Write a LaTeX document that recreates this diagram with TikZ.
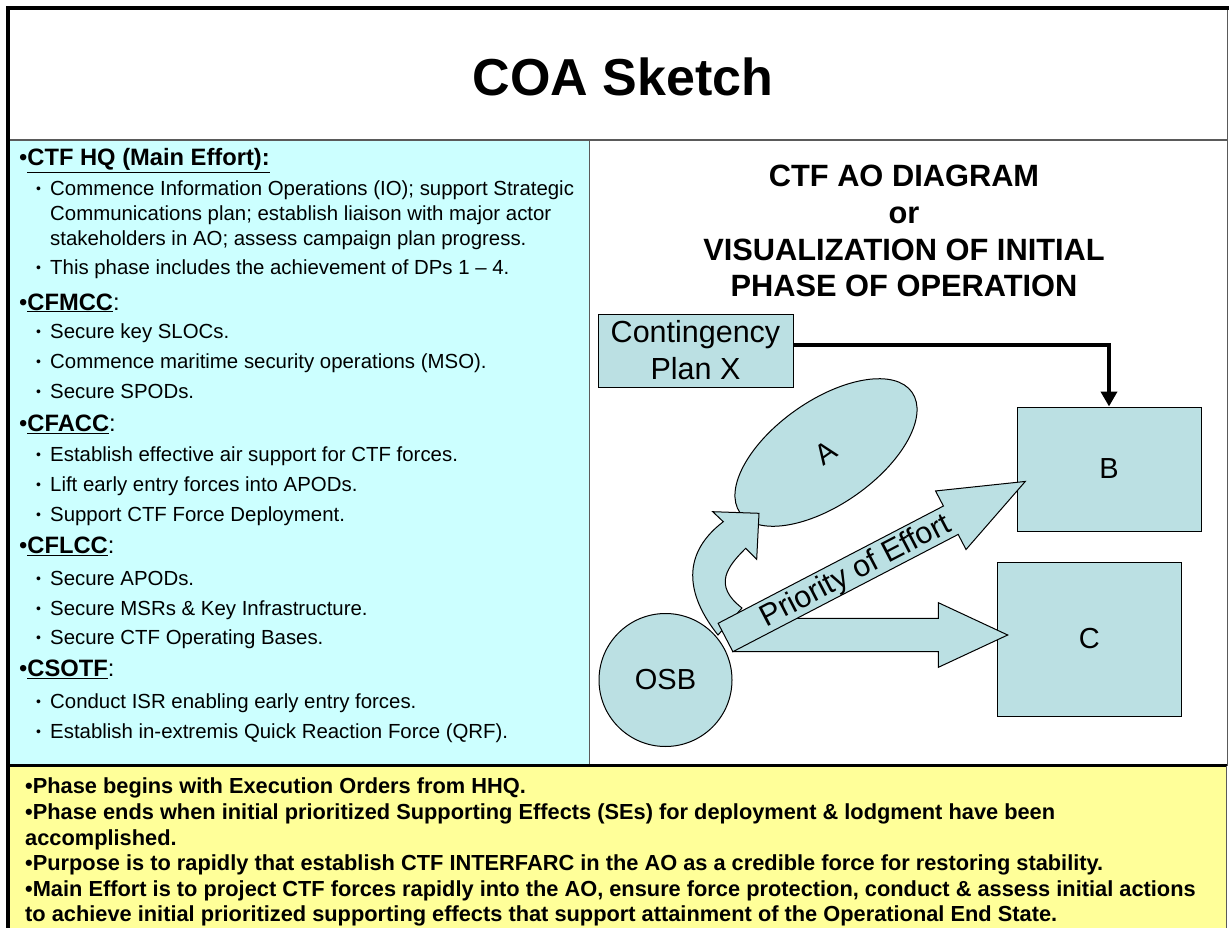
\documentclass[tikz,border=0pt]{standalone}
\usepackage{fontspec}
\setmainfont{Liberation Sans}
\usetikzlibrary{arrows.meta,shapes.geometric}
\definecolor{panelcyan}{RGB}{204,255,255}
\definecolor{panelyellow}{RGB}{255,255,153}
\definecolor{shapeteal}{RGB}{187,224,227}
\definecolor{rulegray}{RGB}{90,90,90}
\tikzset{
  hdr/.style={anchor=base west, inner sep=0pt, font=\fontsize{23.7}{27}\selectfont},
  subline/.style={anchor=base west, inner sep=0pt, font=\fontsize{20.4}{23}\selectfont},
  subbul/.style={anchor=base west, inner sep=0pt, font=\fontsize{14}{15}\selectfont},
  botline/.style={anchor=base west, inner sep=0pt, font=\fontsize{21.8}{25}\selectfont\bfseries},
  rtitle/.style={anchor=base, inner sep=0pt, font=\fontsize{30.8}{36}\selectfont\bfseries},
  tealshape/.style={draw=black, line width=1pt, fill=shapeteal},
  boxlabel/.style={font=\fontsize{29}{37}\selectfont, align=center, inner sep=0pt},
  cplabel/.style={font=\fontsize{30.5}{37}\selectfont, align=center, inner sep=0pt},
}
\newcommand{\hbul}{•}
\newcommand{\sbul}{\raisebox{2pt}{•}}
\begin{document}
\begin{tikzpicture}[x=1pt,y=-1pt]
\useasboundingbox (0,0) rectangle (1229,928);
% backgrounds
\fill[white] (0,0) rectangle (1229,928);
\fill[white] (10,10) rectangle (1227,140);
\fill[panelcyan] (10,140) rectangle (589.5,765.5);
\fill[white] (589.5,140) rectangle (1227,765.5);
\fill[panelyellow] (10,765.5) rectangle (1226,928);
% rules
\draw[rulegray, line width=1.5pt] (10,140) -- (1227,140);
\draw[rulegray, line width=1.5pt] (589.5,140) -- (589.5,765.5);
\draw[black, line width=2.5pt] (10,765.5) -- (1227,765.5);
\draw[rulegray, line width=1pt] (1227,10) -- (1227,765.5);
\draw[rulegray, line width=1pt] (1226,765.5) -- (1226,928);
\draw[black, line width=4pt] (8,928) -- (8,8.5) -- (1229,8.5);

% title
\node[anchor=base, inner sep=0pt, font=\fontsize{52}{60}\selectfont\bfseries] (title) at (623,96) {COA Sketch};

% left panel
\node[hdr] (h1) at (19,166) {\hbul\underline{\textbf{CTF HQ (Main Effort):}}};
\node[subbul] (b1) at (36,196) {\sbul};
\node[subline] (s1) at (50,196) {Commence Information Operations (IO); support Strategic};
\node[subline] (s1b) at (50,220.7) {Communications plan; establish liaison with major actor};
\node[subline] (s1c) at (50,245.7) {stakeholders in AO; assess campaign plan progress.};
\node[subbul] (b2) at (36,274.3) {\sbul};
\node[subline] (s2) at (50,274.3) {This phase includes the achievement of DPs 1 – 4.};

\node[hdr] (h2) at (19,310) {\hbul\underline{\textbf{CFMCC}}:};
\node[subbul] (b3) at (36,338.3) {\sbul};
\node[subline] (s3) at (50,338.3) {Secure key SLOCs.};
\node[subbul] (b4) at (36,368.3) {\sbul};
\node[subline] (s4) at (50,368.3) {Commence maritime security operations (MSO).};
\node[subbul] (b5) at (36,398.3) {\sbul};
\node[subline] (s5) at (50,398.3) {Secure SPODs.};

\node[hdr] (h3) at (19,431.7) {\hbul\underline{\textbf{CFACC}}:};
\node[subbul] (b6) at (36,461.7) {\sbul};
\node[subline] (s6) at (50,461.7) {Establish effective air support for CTF forces.};
\node[subbul] (b7) at (36,491.7) {\sbul};
\node[subline] (s7) at (50,491.7) {Lift early entry forces into APODs.};
\node[subbul] (b8) at (36,521.7) {\sbul};
\node[subline] (s8) at (50,521.7) {Support CTF Force Deployment.};

\node[hdr] (h4) at (19,553.3) {\hbul\underline{\textbf{CFLCC}}:};
\node[subbul] (b9) at (36,585) {\sbul};
\node[subline] (s9) at (50,585) {Secure APODs.};
\node[subbul] (b10) at (36,615) {\sbul};
\node[subline] (s10) at (50,615) {Secure MSRs \& Key Infrastructure.};
\node[subbul] (b11) at (36,644.3) {\sbul};
\node[subline] (s11) at (50,644.3) {Secure CTF Operating Bases.};

\node[hdr] (h5) at (19,676.7) {\hbul\underline{\textbf{CSOTF}}:};
\node[subbul] (b12) at (36,708.3) {\sbul};
\node[subline] (s12) at (50,708.3) {Conduct ISR enabling early entry forces.};
\node[subbul] (b13) at (36,738.3) {\sbul};
\node[subline] (s13) at (50,738.3) {Establish in-extremis Quick Reaction Force (QRF).};

% right panel title
\node[rtitle] (rt1) at (904,186.7) {CTF AO DIAGRAM};
\node[rtitle] (rt2) at (904,223.3) {or};
\node[rtitle] (rt3) at (904,260) {VISUALIZATION OF INITIAL};
\node[rtitle] (rt4) at (904,296.7) {PHASE OF OPERATION};

% diagram shapes
\node[tealshape, rectangle, minimum width=195pt, minimum height=73pt, cplabel] (cp) at (695.5,350.5) {Contingency\\Plan X};
\node[tealshape, rectangle, minimum width=184pt, minimum height=124pt, boxlabel] (B) at (1109,469) {B};
\node[tealshape, rectangle, minimum width=183.5pt, minimum height=154pt, boxlabel] (C) at (1089.25,639) {C};
\node[tealshape, ellipse, minimum width=210pt, minimum height=104pt, rotate=35, boxlabel] (A) at (826,452.5) {A};

% curved arrow OSB -> A
\draw[tealshape, line join=miter] (718,635) .. controls (690,600) and (677,557) .. (723.3,521.7)
  -- (712.7,511.7) -- (759,513.3) -- (756.7,559.3) -- (745.7,548.3)
  .. controls (728,566) and (712,585) .. (742,608) -- cycle;

\node[tealshape, circle, minimum size=133pt, boxlabel] (osb) at (665.5,680) {OSB};

% horizontal arrow to C
\draw[tealshape] (732.6,618.3) -- (938.4,618.3) -- (938.4,602.7) -- (1007.7,635)
  -- (938.4,667.3) -- (938.4,651.7) -- (732.6,651.7) -- cycle;

% priority of effort arrow
\begin{scope}[shift={(725.5,637.5)}, rotate=27.5]
\draw[tealshape] (0,-16) -- (254,-16) -- (254,-33) -- (338,0) -- (254,33) -- (254,16) -- (0,16) -- cycle;
\node[inner sep=0pt, font=\fontsize{30.5}{33}\selectfont, rotate=27.5] (poe) at (146,2) {Priority of Effort};
\end{scope}

% connector
\draw[line width=4pt, -{Triangle[width=16pt,length=15pt]}] ([yshift=5.5pt]cp.east) -| (B.north);

% bottom text
\node[botline] (y1) at (25,793.5) {•Phase begins with Execution Orders from HHQ.};
\node[botline] (y2) at (25,819.5) {•Phase ends when initial prioritized Supporting Effects (SEs) for deployment \& lodgment have been};
\node[botline] (y3) at (25,845) {accomplished.};
\node[botline] (y4) at (25,870.5) {•Purpose is to rapidly that establish CTF INTERFARC in the AO as a credible force for restoring stability.};
\node[botline] (y5) at (25,896) {•Main Effort is to project CTF forces rapidly into the AO, ensure force protection, conduct \& assess initial actions};
\node[botline] (y6) at (25,921.7) {to achieve initial prioritized supporting effects that support attainment of the Operational End State.};
\end{tikzpicture}
\end{document}
